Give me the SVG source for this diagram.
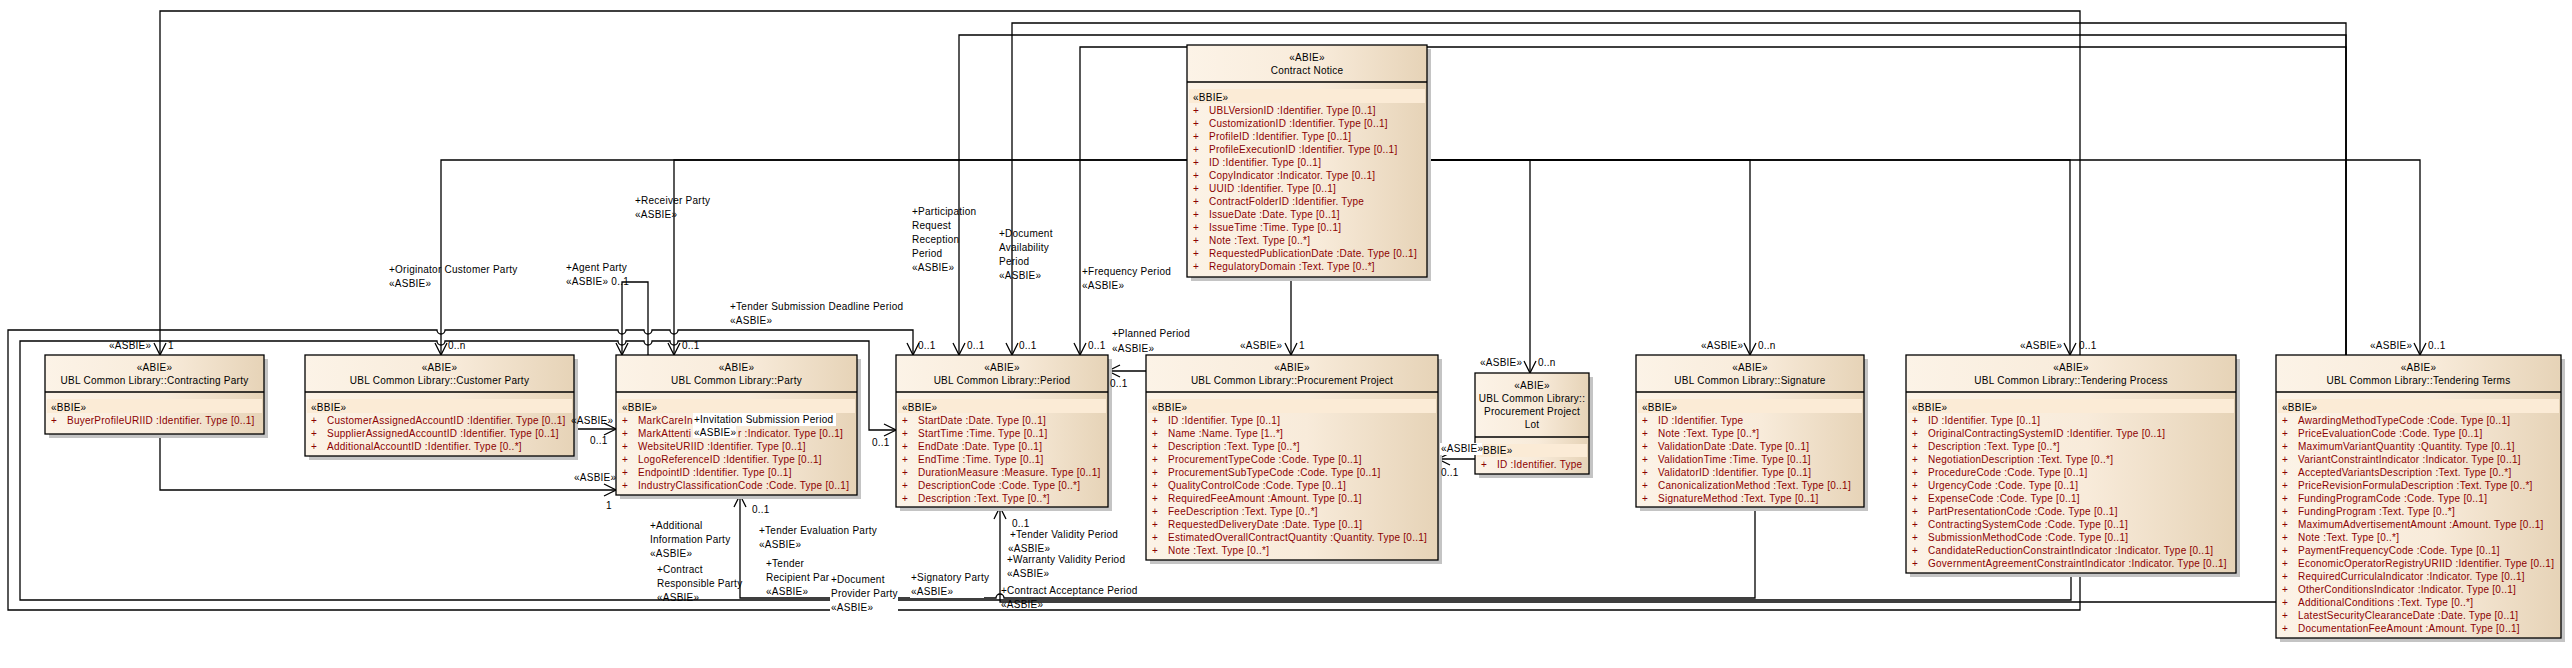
<svg xmlns="http://www.w3.org/2000/svg" width="2572" height="668" viewBox="0 0 2572 668" xml:space="preserve">
<defs>
<linearGradient id="g" x1="0" y1="0" x2="1" y2="0"><stop offset="0" stop-color="#FCF3E7"/><stop offset="0.55" stop-color="#F8EBDA"/><stop offset="1" stop-color="#E6D3B7"/></linearGradient>
<marker id="a" viewBox="0 0 14 14" refX="13" refY="7" markerWidth="14" markerHeight="14" markerUnits="userSpaceOnUse" orient="auto"><path d="M1,1 L13,7 L1,13" fill="none" stroke="#000" stroke-width="1.3"/></marker>
<style>
.sh{fill:#c4c4c4}
.box{fill:url(#g);stroke:#000;stroke-width:1.3}
.dv{stroke:#000;stroke-width:1.3}
.band{fill:#FBEBD6}
text{font-family:"Liberation Sans",Arial,sans-serif;font-size:10px;letter-spacing:0.25px;fill:#000}
.h{text-anchor:middle}
.r{fill:#8B0000}
.e{fill:none;stroke:#000;stroke-width:1.3}
.ea{fill:none;stroke:#000;stroke-width:1.3;marker-end:url(#a)}
.wb{fill:#fff}
</style>
</defs>
<rect width="2572" height="668" fill="#fff"/>
<g id="connectors">
<path class="ea" d="M1187,160 H441 V355"/>
<path class="ea" d="M1187,160 H674 V355"/>
<path class="ea" d="M1291,277 V355"/>
<path class="ea" d="M1427,160 H2420 V355"/>
<path class="ea" d="M1427,160 H1530 V373"/>
<path class="ea" d="M1427,160 H1750 V355"/>
<path class="ea" d="M1427,160 H2070 V355"/>
<path class="ea" d="M2080,355 V11 H160 V355"/>
<path class="ea" d="M160,434 V490 H616"/>
<path class="ea" d="M574,429 H616"/>
<path class="ea" d="M648,355 V282 H622 V355"/>
<path class="ea" d="M1146,371 H1108"/>
<path class="ea" d="M1475,459 H1438"/>
<path class="ea" d="M2080,573 V610 H8 V330 H437 a4,4 0 0 0 8,0 H618 a4,4 0 0 0 8,0 H644 a4,4 0 0 0 8,0 H670 a4,4 0 0 0 8,0 H913 V355"/>
<path class="ea" d="M2071,573 V600 H20 V341 H437 a4,4 0 0 0 8,0 H618 a4,4 0 0 0 8,0 H644 a4,4 0 0 0 8,0 H670 a4,4 0 0 0 8,0 H869 V430 H896"/>
<path class="ea" d="M2346,355 V23 H1012 V355"/>
<path class="ea" d="M2346,355 V35 H959 V355"/>
<path class="ea" d="M2346,355 V47 H1080 V355"/>
<path class="ea" d="M1755,507 V598 H1004 a4,4 0 0 0 -8,0 H740 V495"/>
<path class="ea" d="M2276,602 H1000 V507"/>
</g>
<g id="contract-notice">
<rect class="sh" x="1191" y="49" width="240" height="232"/>
<rect class="box" x="1187" y="45" width="240" height="232"/>
<text class="h" x="1307" y="60.5">«ABIE»</text>
<text class="h" x="1307" y="73.5">Contract Notice</text>
<line class="dv" x1="1187" y1="82" x2="1427" y2="82"/>
<rect class="band" x="1189" y="89" width="236" height="14"/>
<text x="1193" y="100.5">«BBIE»</text>
<text class="r"><tspan x="1193" y="113.5">+</tspan><tspan x="1209" y="113.5">UBLVersionID  :Identifier. Type [0..1]</tspan></text>
<text class="r"><tspan x="1193" y="126.5">+</tspan><tspan x="1209" y="126.5">CustomizationID  :Identifier. Type [0..1]</tspan></text>
<text class="r"><tspan x="1193" y="139.5">+</tspan><tspan x="1209" y="139.5">ProfileID  :Identifier. Type [0..1]</tspan></text>
<text class="r"><tspan x="1193" y="152.5">+</tspan><tspan x="1209" y="152.5">ProfileExecutionID  :Identifier. Type [0..1]</tspan></text>
<text class="r"><tspan x="1193" y="165.5">+</tspan><tspan x="1209" y="165.5">ID  :Identifier. Type [0..1]</tspan></text>
<text class="r"><tspan x="1193" y="178.5">+</tspan><tspan x="1209" y="178.5">CopyIndicator  :Indicator. Type [0..1]</tspan></text>
<text class="r"><tspan x="1193" y="191.5">+</tspan><tspan x="1209" y="191.5">UUID  :Identifier. Type [0..1]</tspan></text>
<text class="r"><tspan x="1193" y="204.5">+</tspan><tspan x="1209" y="204.5">ContractFolderID  :Identifier. Type</tspan></text>
<text class="r"><tspan x="1193" y="217.5">+</tspan><tspan x="1209" y="217.5">IssueDate  :Date. Type [0..1]</tspan></text>
<text class="r"><tspan x="1193" y="230.5">+</tspan><tspan x="1209" y="230.5">IssueTime  :Time. Type [0..1]</tspan></text>
<text class="r"><tspan x="1193" y="243.5">+</tspan><tspan x="1209" y="243.5">Note  :Text. Type [0..*]</tspan></text>
<text class="r"><tspan x="1193" y="256.5">+</tspan><tspan x="1209" y="256.5">RequestedPublicationDate  :Date. Type [0..1]</tspan></text>
<text class="r"><tspan x="1193" y="269.5">+</tspan><tspan x="1209" y="269.5">RegulatoryDomain  :Text. Type [0..*]</tspan></text>
</g>
<g id="contracting-party">
<rect class="sh" x="49" y="359" width="219" height="79"/>
<rect class="box" x="45" y="355" width="219" height="79"/>
<text class="h" x="154.5" y="370.5">«ABIE»</text>
<text class="h" x="154.5" y="383.5">UBL Common Library::Contracting Party</text>
<line class="dv" x1="45" y1="392" x2="264" y2="392"/>
<rect class="band" x="47" y="399" width="215" height="14"/>
<text x="51" y="410.5">«BBIE»</text>
<text class="r"><tspan x="51" y="423.5">+</tspan><tspan x="67" y="423.5">BuyerProfileURIID  :Identifier. Type [0..1]</tspan></text>
</g>
<g id="customer-party">
<rect class="sh" x="309" y="359" width="269" height="101"/>
<rect class="box" x="305" y="355" width="269" height="101"/>
<text class="h" x="439.5" y="370.5">«ABIE»</text>
<text class="h" x="439.5" y="383.5">UBL Common Library::Customer Party</text>
<line class="dv" x1="305" y1="392" x2="574" y2="392"/>
<rect class="band" x="307" y="399" width="265" height="14"/>
<text x="311" y="410.5">«BBIE»</text>
<text class="r"><tspan x="311" y="423.5">+</tspan><tspan x="327" y="423.5">CustomerAssignedAccountID  :Identifier. Type [0..1]</tspan></text>
<text class="r"><tspan x="311" y="436.5">+</tspan><tspan x="327" y="436.5">SupplierAssignedAccountID  :Identifier. Type [0..1]</tspan></text>
<text class="r"><tspan x="311" y="449.5">+</tspan><tspan x="327" y="449.5">AdditionalAccountID  :Identifier. Type [0..*]</tspan></text>
</g>
<g id="party">
<rect class="sh" x="620" y="359" width="241" height="140"/>
<rect class="box" x="616" y="355" width="241" height="140"/>
<text class="h" x="736.5" y="370.5">«ABIE»</text>
<text class="h" x="736.5" y="383.5">UBL Common Library::Party</text>
<line class="dv" x1="616" y1="392" x2="857" y2="392"/>
<rect class="band" x="618" y="399" width="237" height="14"/>
<text x="622" y="410.5">«BBIE»</text>
<text class="r"><tspan x="622" y="423.5">+</tspan><tspan x="638" y="423.5">MarkCareInd</tspan></text>
<text class="r"><tspan x="622" y="436.5">+</tspan><tspan x="638" y="436.5">MarkAttenti</tspan><tspan x="738" y="436.5">r  :Indicator. Type [0..1]</tspan></text>
<text class="r"><tspan x="622" y="449.5">+</tspan><tspan x="638" y="449.5">WebsiteURIID  :Identifier. Type [0..1]</tspan></text>
<text class="r"><tspan x="622" y="462.5">+</tspan><tspan x="638" y="462.5">LogoReferenceID  :Identifier. Type [0..1]</tspan></text>
<text class="r"><tspan x="622" y="475.5">+</tspan><tspan x="638" y="475.5">EndpointID  :Identifier. Type [0..1]</tspan></text>
<text class="r"><tspan x="622" y="488.5">+</tspan><tspan x="638" y="488.5">IndustryClassificationCode  :Code. Type [0..1]</tspan></text>
</g>
<g id="period">
<rect class="sh" x="900" y="359" width="212" height="152"/>
<rect class="box" x="896" y="355" width="212" height="152"/>
<text class="h" x="1002" y="370.5">«ABIE»</text>
<text class="h" x="1002" y="383.5">UBL Common Library::Period</text>
<line class="dv" x1="896" y1="392" x2="1108" y2="392"/>
<rect class="band" x="898" y="399" width="208" height="14"/>
<text x="902" y="410.5">«BBIE»</text>
<text class="r"><tspan x="902" y="423.5">+</tspan><tspan x="918" y="423.5">StartDate  :Date. Type [0..1]</tspan></text>
<text class="r"><tspan x="902" y="436.5">+</tspan><tspan x="918" y="436.5">StartTime  :Time. Type [0..1]</tspan></text>
<text class="r"><tspan x="902" y="449.5">+</tspan><tspan x="918" y="449.5">EndDate  :Date. Type [0..1]</tspan></text>
<text class="r"><tspan x="902" y="462.5">+</tspan><tspan x="918" y="462.5">EndTime  :Time. Type [0..1]</tspan></text>
<text class="r"><tspan x="902" y="475.5">+</tspan><tspan x="918" y="475.5">DurationMeasure  :Measure. Type [0..1]</tspan></text>
<text class="r"><tspan x="902" y="488.5">+</tspan><tspan x="918" y="488.5">DescriptionCode  :Code. Type [0..*]</tspan></text>
<text class="r"><tspan x="902" y="501.5">+</tspan><tspan x="918" y="501.5">Description  :Text. Type [0..*]</tspan></text>
</g>
<g id="procurement-project">
<rect class="sh" x="1150" y="359" width="292" height="205"/>
<rect class="box" x="1146" y="355" width="292" height="205"/>
<text class="h" x="1292" y="370.5">«ABIE»</text>
<text class="h" x="1292" y="383.5">UBL Common Library::Procurement Project</text>
<line class="dv" x1="1146" y1="392" x2="1438" y2="392"/>
<rect class="band" x="1148" y="399" width="288" height="14"/>
<text x="1152" y="410.5">«BBIE»</text>
<text class="r"><tspan x="1152" y="423.5">+</tspan><tspan x="1168" y="423.5">ID  :Identifier. Type [0..1]</tspan></text>
<text class="r"><tspan x="1152" y="436.5">+</tspan><tspan x="1168" y="436.5">Name  :Name. Type [1..*]</tspan></text>
<text class="r"><tspan x="1152" y="449.5">+</tspan><tspan x="1168" y="449.5">Description  :Text. Type [0..*]</tspan></text>
<text class="r"><tspan x="1152" y="462.5">+</tspan><tspan x="1168" y="462.5">ProcurementTypeCode  :Code. Type [0..1]</tspan></text>
<text class="r"><tspan x="1152" y="475.5">+</tspan><tspan x="1168" y="475.5">ProcurementSubTypeCode  :Code. Type [0..1]</tspan></text>
<text class="r"><tspan x="1152" y="488.5">+</tspan><tspan x="1168" y="488.5">QualityControlCode  :Code. Type [0..1]</tspan></text>
<text class="r"><tspan x="1152" y="501.5">+</tspan><tspan x="1168" y="501.5">RequiredFeeAmount  :Amount. Type [0..1]</tspan></text>
<text class="r"><tspan x="1152" y="514.5">+</tspan><tspan x="1168" y="514.5">FeeDescription  :Text. Type [0..*]</tspan></text>
<text class="r"><tspan x="1152" y="527.5">+</tspan><tspan x="1168" y="527.5">RequestedDeliveryDate  :Date. Type [0..1]</tspan></text>
<text class="r"><tspan x="1152" y="540.5">+</tspan><tspan x="1168" y="540.5">EstimatedOverallContractQuantity  :Quantity. Type [0..1]</tspan></text>
<text class="r"><tspan x="1152" y="553.5">+</tspan><tspan x="1168" y="553.5">Note  :Text. Type [0..*]</tspan></text>
</g>
<g id="procurement-project-lot">
<rect class="sh" x="1479" y="377" width="114" height="101"/>
<rect class="box" x="1475" y="373" width="114" height="101"/>
<text class="h" x="1532" y="388.5">«ABIE»</text>
<text class="h" x="1532" y="401.5">UBL Common Library::</text>
<text class="h" x="1532" y="414.5">Procurement Project</text>
<text class="h" x="1532" y="427.5">Lot</text>
<line class="dv" x1="1475" y1="437" x2="1589" y2="437"/>
<rect class="band" x="1477" y="444" width="110" height="13"/>
<text x="1483" y="453.5">BBIE»</text>
<text class="r"><tspan x="1481" y="467.5">+</tspan><tspan x="1497" y="467.5">ID  :Identifier. Type</tspan></text>
</g>
<g id="signature">
<rect class="sh" x="1640" y="359" width="228" height="152"/>
<rect class="box" x="1636" y="355" width="228" height="152"/>
<text class="h" x="1750" y="370.5">«ABIE»</text>
<text class="h" x="1750" y="383.5">UBL Common Library::Signature</text>
<line class="dv" x1="1636" y1="392" x2="1864" y2="392"/>
<rect class="band" x="1638" y="399" width="224" height="14"/>
<text x="1642" y="410.5">«BBIE»</text>
<text class="r"><tspan x="1642" y="423.5">+</tspan><tspan x="1658" y="423.5">ID  :Identifier. Type</tspan></text>
<text class="r"><tspan x="1642" y="436.5">+</tspan><tspan x="1658" y="436.5">Note  :Text. Type [0..*]</tspan></text>
<text class="r"><tspan x="1642" y="449.5">+</tspan><tspan x="1658" y="449.5">ValidationDate  :Date. Type [0..1]</tspan></text>
<text class="r"><tspan x="1642" y="462.5">+</tspan><tspan x="1658" y="462.5">ValidationTime  :Time. Type [0..1]</tspan></text>
<text class="r"><tspan x="1642" y="475.5">+</tspan><tspan x="1658" y="475.5">ValidatorID  :Identifier. Type [0..1]</tspan></text>
<text class="r"><tspan x="1642" y="488.5">+</tspan><tspan x="1658" y="488.5">CanonicalizationMethod  :Text. Type [0..1]</tspan></text>
<text class="r"><tspan x="1642" y="501.5">+</tspan><tspan x="1658" y="501.5">SignatureMethod  :Text. Type [0..1]</tspan></text>
</g>
<g id="tendering-process">
<rect class="sh" x="1910" y="359" width="330" height="218"/>
<rect class="box" x="1906" y="355" width="330" height="218"/>
<text class="h" x="2071" y="370.5">«ABIE»</text>
<text class="h" x="2071" y="383.5">UBL Common Library::Tendering Process</text>
<line class="dv" x1="1906" y1="392" x2="2236" y2="392"/>
<rect class="band" x="1908" y="399" width="326" height="14"/>
<text x="1912" y="410.5">«BBIE»</text>
<text class="r"><tspan x="1912" y="423.5">+</tspan><tspan x="1928" y="423.5">ID  :Identifier. Type [0..1]</tspan></text>
<text class="r"><tspan x="1912" y="436.5">+</tspan><tspan x="1928" y="436.5">OriginalContractingSystemID  :Identifier. Type [0..1]</tspan></text>
<text class="r"><tspan x="1912" y="449.5">+</tspan><tspan x="1928" y="449.5">Description  :Text. Type [0..*]</tspan></text>
<text class="r"><tspan x="1912" y="462.5">+</tspan><tspan x="1928" y="462.5">NegotiationDescription  :Text. Type [0..*]</tspan></text>
<text class="r"><tspan x="1912" y="475.5">+</tspan><tspan x="1928" y="475.5">ProcedureCode  :Code. Type [0..1]</tspan></text>
<text class="r"><tspan x="1912" y="488.5">+</tspan><tspan x="1928" y="488.5">UrgencyCode  :Code. Type [0..1]</tspan></text>
<text class="r"><tspan x="1912" y="501.5">+</tspan><tspan x="1928" y="501.5">ExpenseCode  :Code. Type [0..1]</tspan></text>
<text class="r"><tspan x="1912" y="514.5">+</tspan><tspan x="1928" y="514.5">PartPresentationCode  :Code. Type [0..1]</tspan></text>
<text class="r"><tspan x="1912" y="527.5">+</tspan><tspan x="1928" y="527.5">ContractingSystemCode  :Code. Type [0..1]</tspan></text>
<text class="r"><tspan x="1912" y="540.5">+</tspan><tspan x="1928" y="540.5">SubmissionMethodCode  :Code. Type [0..1]</tspan></text>
<text class="r"><tspan x="1912" y="553.5">+</tspan><tspan x="1928" y="553.5">CandidateReductionConstraintIndicator  :Indicator. Type [0..1]</tspan></text>
<text class="r"><tspan x="1912" y="566.5">+</tspan><tspan x="1928" y="566.5">GovernmentAgreementConstraintIndicator  :Indicator. Type [0..1]</tspan></text>
</g>
<g id="tendering-terms">
<rect class="sh" x="2280" y="359" width="285" height="283"/>
<rect class="box" x="2276" y="355" width="285" height="283"/>
<text class="h" x="2418.5" y="370.5">«ABIE»</text>
<text class="h" x="2418.5" y="383.5">UBL Common Library::Tendering Terms</text>
<line class="dv" x1="2276" y1="392" x2="2561" y2="392"/>
<rect class="band" x="2278" y="399" width="281" height="14"/>
<text x="2282" y="410.5">«BBIE»</text>
<text class="r"><tspan x="2282" y="423.5">+</tspan><tspan x="2298" y="423.5">AwardingMethodTypeCode  :Code. Type [0..1]</tspan></text>
<text class="r"><tspan x="2282" y="436.5">+</tspan><tspan x="2298" y="436.5">PriceEvaluationCode  :Code. Type [0..1]</tspan></text>
<text class="r"><tspan x="2282" y="449.5">+</tspan><tspan x="2298" y="449.5">MaximumVariantQuantity  :Quantity. Type [0..1]</tspan></text>
<text class="r"><tspan x="2282" y="462.5">+</tspan><tspan x="2298" y="462.5">VariantConstraintIndicator  :Indicator. Type [0..1]</tspan></text>
<text class="r"><tspan x="2282" y="475.5">+</tspan><tspan x="2298" y="475.5">AcceptedVariantsDescription  :Text. Type [0..*]</tspan></text>
<text class="r"><tspan x="2282" y="488.5">+</tspan><tspan x="2298" y="488.5">PriceRevisionFormulaDescription  :Text. Type [0..*]</tspan></text>
<text class="r"><tspan x="2282" y="501.5">+</tspan><tspan x="2298" y="501.5">FundingProgramCode  :Code. Type [0..1]</tspan></text>
<text class="r"><tspan x="2282" y="514.5">+</tspan><tspan x="2298" y="514.5">FundingProgram  :Text. Type [0..*]</tspan></text>
<text class="r"><tspan x="2282" y="527.5">+</tspan><tspan x="2298" y="527.5">MaximumAdvertisementAmount  :Amount. Type [0..1]</tspan></text>
<text class="r"><tspan x="2282" y="540.5">+</tspan><tspan x="2298" y="540.5">Note  :Text. Type [0..*]</tspan></text>
<text class="r"><tspan x="2282" y="553.5">+</tspan><tspan x="2298" y="553.5">PaymentFrequencyCode  :Code. Type [0..1]</tspan></text>
<text class="r"><tspan x="2282" y="566.5">+</tspan><tspan x="2298" y="566.5">EconomicOperatorRegistryURIID  :Identifier. Type [0..1]</tspan></text>
<text class="r"><tspan x="2282" y="579.5">+</tspan><tspan x="2298" y="579.5">RequiredCurriculaIndicator  :Indicator. Type [0..1]</tspan></text>
<text class="r"><tspan x="2282" y="592.5">+</tspan><tspan x="2298" y="592.5">OtherConditionsIndicator  :Indicator. Type [0..1]</tspan></text>
<text class="r"><tspan x="2282" y="605.5">+</tspan><tspan x="2298" y="605.5">AdditionalConditions  :Text. Type [0..*]</tspan></text>
<text class="r"><tspan x="2282" y="618.5">+</tspan><tspan x="2298" y="618.5">LatestSecurityClearanceDate  :Date. Type [0..1]</tspan></text>
<text class="r"><tspan x="2282" y="631.5">+</tspan><tspan x="2298" y="631.5">DocumentationFeeAmount  :Amount. Type [0..1]</tspan></text>
</g>
<g id="labels">
<text x="109" y="348.5">«ASBIE»</text><text x="168" y="348.5">1</text>
<text x="448" y="348.5">0..n</text>
<text x="682" y="348.5">0..1</text>
<text x="918" y="348.5">0..1</text><text x="967" y="348.5">0..1</text><text x="1019" y="348.5">0..1</text><text x="1088" y="348.5">0..1</text>
<text x="1112" y="336.5">+Planned Period</text><text x="1112" y="351.5">«ASBIE»</text><text x="1110" y="386.5">0..1</text>
<text x="1240" y="348.5">«ASBIE»</text><text x="1299" y="348.5">1</text>
<text x="1480" y="365.5">«ASBIE»</text><text x="1538" y="365.5">0..n</text>
<rect class="wb" x="1440" y="443" width="42" height="12"/><text x="1441" y="451.5">«ASBIE»</text><text x="1441" y="475.5">0..1</text>
<text x="1701" y="348.5">«ASBIE»</text><text x="1758" y="348.5">0..n</text>
<text x="2020" y="348.5">«ASBIE»</text><text x="2079" y="348.5">0..1</text>
<text x="2370" y="348.5">«ASBIE»</text><text x="2428" y="348.5">0..1</text>
<text x="571" y="423.5">«ASBIE»</text><text x="590" y="443.5">0..1</text>
<text x="574" y="480.5">«ASBIE»</text><text x="606" y="508.5">1</text>
<text x="872" y="445.5">0..1</text>
<text x="752" y="512.5">0..1</text>
<text x="1012" y="526.5">0..1</text>
<text x="389" y="272.5">+Originator Customer Party</text><text x="389" y="286.5">«ASBIE»</text>
<text x="566" y="270.5">+Agent Party</text><text x="566" y="284.5">«ASBIE» 0..1</text>
<text x="635" y="203.5">+Receiver Party</text><text x="635" y="217.5">«ASBIE»</text>
<text x="730" y="309.5">+Tender Submission Deadline Period</text><text x="730" y="323.5">«ASBIE»</text>
<text x="912" y="214.5">+Participation</text><text x="912" y="228.5">Request</text><text x="912" y="242.5">Reception</text><text x="912" y="256.5">Period</text><text x="912" y="270.5">«ASBIE»</text>
<text x="999" y="236.5">+Document</text><text x="999" y="250.5">Availability</text><text x="999" y="264.5">Period</text><text x="999" y="278.5">«ASBIE»</text>
<text x="1082" y="274.5">+Frequency Period</text><text x="1082" y="288.5">«ASBIE»</text>
<rect class="wb" x="693" y="413" width="143" height="13"/><text x="694" y="422.5">+Invitation Submission Period</text>
<rect class="wb" x="693" y="426" width="43" height="12"/><text x="694" y="435.5">«ASBIE»</text>
<text x="650" y="528.5">+Additional</text><text x="650" y="542.5">Information Party</text><text x="650" y="556.5">«ASBIE»</text>
<text x="657" y="572.5">+Contract</text><text x="657" y="586.5">Responsible Party</text><text x="657" y="600.5">«ASBIE»</text>
<text x="759" y="533.5">+Tender Evaluation Party</text><text x="759" y="547.5">«ASBIE»</text>
<rect class="wb" x="765" y="585" width="43" height="12"/>
<text x="766" y="566.5">+Tender</text><text x="766" y="580.5">Recipient Par</text><text x="766" y="594.5">«ASBIE»</text>
<rect class="wb" x="830" y="572" width="68" height="42"/>
<text x="831" y="582.5">+Document</text><text x="831" y="596.5">Provider Party</text><text x="831" y="610.5">«ASBIE»</text>
<rect class="wb" x="910" y="570" width="74" height="28"/>
<text x="911" y="580.5">+Signatory Party</text><text x="911" y="594.5">«ASBIE»</text>
<text x="1010" y="537.5">+Tender Validity Period</text><text x="1008" y="551.5">«ASBIE»</text>
<text x="1007" y="562.5">+Warranty Validity Period</text><text x="1007" y="576.5">«ASBIE»</text>
<text x="1001" y="593.5">+Contract Acceptance Period</text><text x="1001" y="607.5">«ASBIE»</text>
</g>
</svg>
